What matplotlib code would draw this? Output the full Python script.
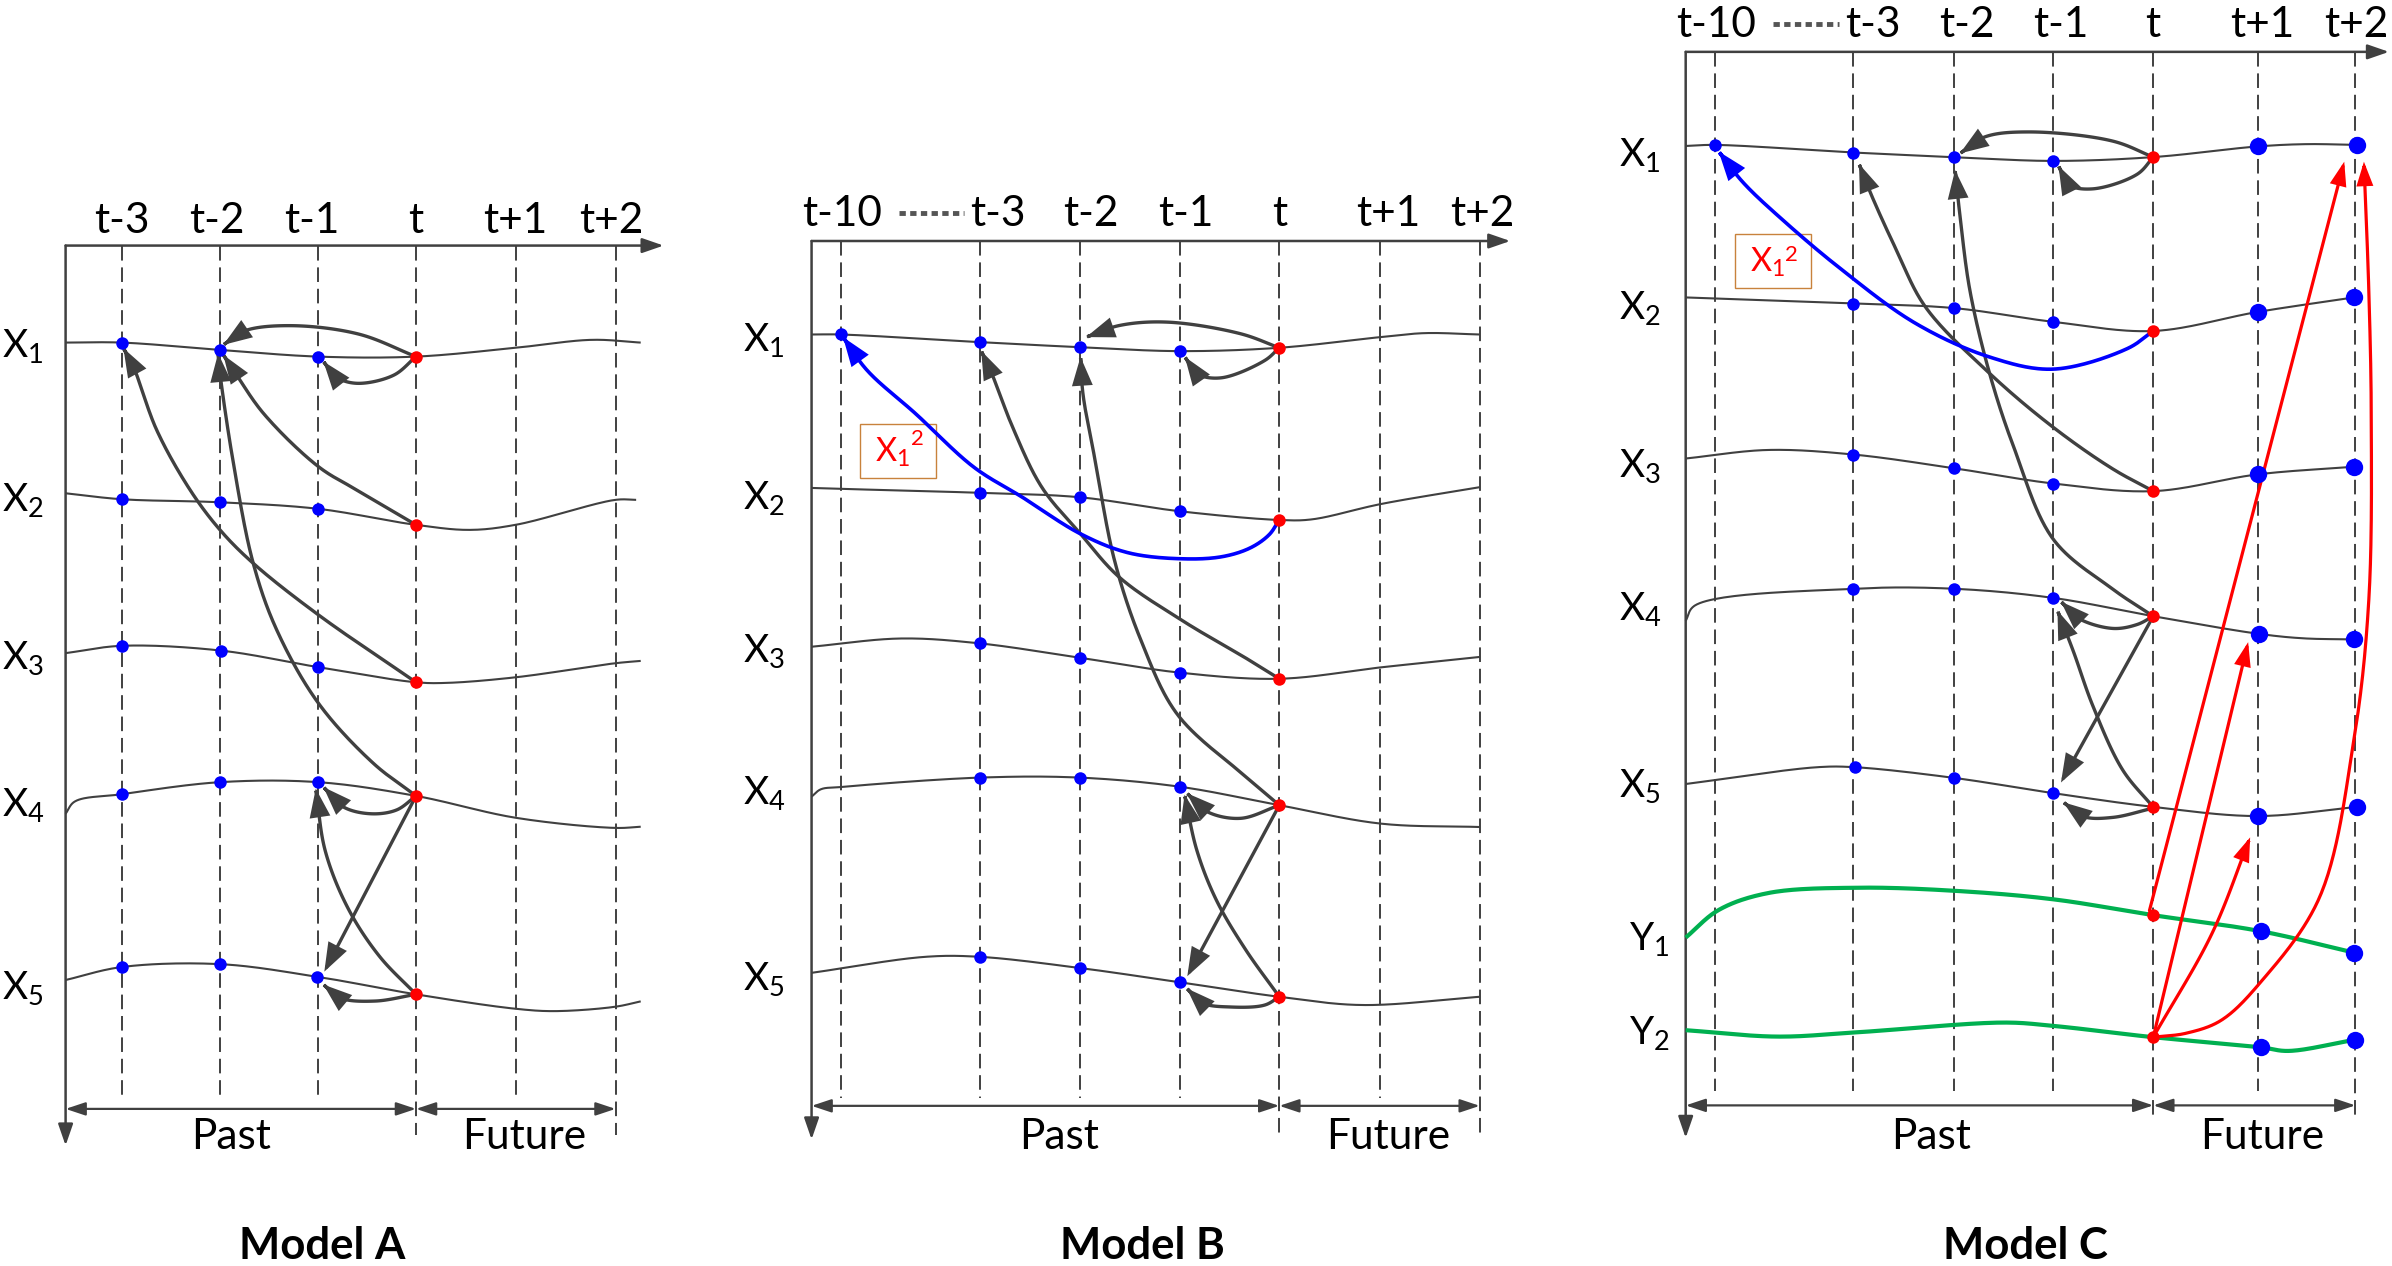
import numpy as np
import matplotlib
matplotlib.use("Agg")
import matplotlib.pyplot as plt
from matplotlib.patches import FancyArrowPatch, Rectangle
from matplotlib.path import Path

plt.rcParams['font.family'] = ['Lato', 'DejaVu Sans']
plt.rcParams['mathtext.fontset'] = 'custom'
plt.rcParams['mathtext.rm'] = 'Lato'
plt.rcParams['mathtext.it'] = 'Lato:italic'
plt.rcParams['mathtext.bf'] = 'Lato:bold'

# ---------------- data (diagram coordinates, y grows downward) ----------------
# Model A
A_COL_X = [80, 144.2, 208.7, 272.7, 338.4, 403.5]
A_COL_LABELS = ["t-3", "t-2", "t-1", "t", "t+1", "t+2"]
A_COL_LABEL_X = [80, 142, 204.5, 272.5, 338, 401]
A_COL_BOTTOM = [722, 722, 722, 744, 722, 744]
A_ROW_NAMES = ["X_1", "X_2", "X_3", "X_4", "X_5"]
A_ROW_BASE = [234.2, 335, 438.7, 534.9, 655.2]
A_ROWS = [
    [(43, 224.6, ''), (79.8, 224.6, 'b'), (144.2, 229.4, 'b'), (208.7, 233.8, 'b'), (272.7, 233.8, 'r'), (338, 228, ''), (388, 222.8, ''), (420, 224.6, '')],
    [(43, 323.4, ''), (79.8, 327.3, 'b'), (144.2, 329.3, 'b'), (208.7, 333.6, 'b'), (272.7, 344.1, 'r'), (308, 347.4, ''), (338.4, 344, ''), (403.5, 327.7, ''), (417, 327.7, '')],
    [(43, 428.2, ''), (79.8, 423.4, 'b'), (144.6, 426.5, 'b'), (208.7, 437.4, 'b'), (272.7, 447.3, 'r'), (293, 447.7, ''), (338.4, 444, ''), (403.5, 434.8, ''), (420, 433.3, '')],
    [(43, 533.5, ''), (49, 525.5, ''), (79.8, 520.7, 'b'), (144.2, 512.8, 'b'), (208.7, 512.8, 'b'), (272.7, 521.8, 'r'), (338.4, 536.2, ''), (403.5, 542.8, ''), (420, 542, '')],
    [(43, 642.5, ''), (79.8, 634, 'b'), (144.2, 632.1, 'b'), (208, 640.4, 'b'), (272.7, 651.9, 'r'), (338.4, 661.4, ''), (364, 662.9, ''), (403.5, 660, ''), (420, 656.5, '')],
]
A_ARROWS = [
    [(272.7, 233.8), (235, 219), (190, 213.5), (160, 217), (146.4, 226.1)],
    [(272.7, 233.8), (258, 246), (234, 251.3), (220, 247), (212, 237)],
    [(272.7, 344.1), (233.8, 321.2), (208.7, 305.9), (172.6, 270.9), (153, 242.5), (146.4, 232.7)],
    [(272.7, 447.3), (208.7, 403.1), (166, 369.3), (144.2, 347.4), (124.6, 321.2), (102.7, 281.9), (87.4, 240.3), (80.9, 228.3)],
    [(272.7, 521.8), (244.7, 500.4), (208.7, 461), (181.4, 413), (166, 369.3), (153, 303.7), (144.2, 244.7), (143, 231.6)],
    [(272.7, 521.8), (260, 531), (243, 533.5), (225, 529), (212, 516)],
    [(272.7, 651.9), (248.7, 626.9), (228, 595.2), (213.2, 557.8), (207, 517)],
    [(272.7, 521.8), (212.6, 637)],
    [(272.7, 651.9), (245.8, 656.3), (222.6, 654.2), (212, 645.5)],
]

# Model B
B_COL_X = [551, 642.2, 707.7, 773.5, 838.6, 904.5, 970]
B_COL_LABELS = ["t-10", "t-3", "t-2", "t-1", "t", "t+1", "t+2"]
B_COL_LABEL_X = [551.8, 654.3, 715.4, 777.5, 838.7, 910, 972]
B_COL_BOTTOM = [720, 720, 720, 720, 743, 720, 743]
B_ROW_NAMES = ["X_1", "X_2", "X_3", "X_4", "X_5"]
B_ROW_BASE = [230, 333.6, 434.2, 526.9, 649.1]
B_ROWS = [
    [(532, 219.3, ''), (551, 219.3, 'b'), (642.2, 224.3, 'b'), (707.7, 227.6, 'b'), (773.5, 230.2, 'b'), (838.6, 228, 'r'), (905, 221, ''), (934, 218.4, ''), (970, 219.3, '')],
    [(532, 319.9, ''), (551, 320.5, ''), (642.2, 323.1, 'b'), (707.7, 326, 'b'), (773.5, 335.2, 'b'), (838.6, 340.9, 'r'), (860, 340.5, ''), (905.4, 330.4, ''), (970, 319.4, '')],
    [(532, 424, ''), (590.8, 418.6, ''), (642.2, 421.8, 'b'), (707.7, 431.2, 'b'), (773.5, 441, 'b'), (838.6, 445, 'r'), (905.4, 437.5, ''), (970, 430.7, '')],
    [(532, 522.3, ''), (538, 517.5, ''), (551, 516, ''), (642.2, 509.8, 'b'), (707.7, 509.8, 'b'), (773.5, 515.8, 'b'), (838.6, 527.9, 'r'), (905.4, 540, ''), (970, 542.2, '')],
    [(532, 637.8, ''), (606.6, 627.3, ''), (642.2, 627.3, 'b'), (707.7, 634.6, 'b'), (773.5, 644, 'b'), (838.6, 653.5, 'r'), (892.7, 658.9, ''), (970, 653.5, '')],
]
B_ARROWS = [
    [(838.6, 228), (813.2, 218.8), (765.5, 211.2), (733.8, 213.4), (712, 221)],
    [(838.6, 228), (829.1, 236.3), (800.5, 247.7), (784.6, 245), (776.7, 234)],
    [(838.6, 445), (819.6, 433.2), (775.1, 406.9), (733.8, 378.5), (708.3, 350), (682.9, 319.4), (663.8, 280.1), (651.1, 247.3), (643.2, 230)],
    [(838.6, 527.9), (816.4, 509), (771.9, 468.5), (748, 420), (730.6, 367.5), (717.9, 301.9), (709.9, 258.2), (708.3, 234)],
    [(838.6, 527.9), (813.2, 536.5), (791, 532), (778, 520)],
    [(838.6, 653.5), (816.4, 622.4), (797.3, 590), (784.6, 557.6), (776.5, 521)],
    [(838.6, 527.9), (778.3, 640)],
    [(838.6, 653.5), (829.1, 658.9), (806.9, 660.2), (787.8, 657.5), (778, 648)],
]
B_BLUE_ARROW = [(838.6, 340.9), (832, 350.5), (820, 359), (802, 364.8), (776.7, 366.4), (740, 362.5), (708.3, 350), (670.2, 326), (638.4, 306.3), (600.3, 271.3), (568.5, 242.9), (552.6, 221)]

# Model C
C_COL_X = [1124, 1215, 1281, 1346, 1411.5, 1480, 1544]
C_COL_LABELS = ["t-10", "t-3", "t-2", "t-1", "t", "t+1", "t+2"]
C_COL_LABEL_X = [1125, 1228, 1289, 1351, 1411, 1483, 1544.7]
C_COL_BOTTOM = [715, 715, 715, 715, 734, 715, 734]
C_ROW_NAMES = ["X_1", "X_2", "X_3", "X_4", "X_5", "Y_1", "Y_2"]
C_ROW_BASE = [108.8, 209.4, 312.8, 406.6, 522.8, 623, 684.3]
C_ROW_LABEL_X = [1061, 1061, 1061, 1061, 1061, 1068, 1068]
C_ROWS = [
    [(1105, 95.7, ''), (1124, 95, 'b'), (1215, 100, 'b'), (1281, 103, 'b'), (1346, 105.5, 'b'), (1411.5, 103, 'r'), (1480, 96, 'B'), (1512, 94.5, ''), (1545, 95, 'B')],
    [(1105, 195, ''), (1215, 199, 'b'), (1281, 202, 'b'), (1346, 211, 'b'), (1411.5, 217, 'r'), (1480, 204.5, 'B'), (1543, 195, 'B')],
    [(1105, 300.6, ''), (1159, 295, ''), (1215, 298, 'b'), (1281, 307, 'b'), (1346, 317, 'b'), (1411.5, 322, 'r'), (1480, 311, 'B'), (1543, 306, 'B')],
    [(1105, 407, ''), (1111, 397, ''), (1215, 386, 'b'), (1281, 386, 'b'), (1346, 392, 'b'), (1411.5, 404, 'r'), (1481, 415.6, 'B'), (1510, 418.5, ''), (1543, 419.2, 'B')],
    [(1105, 514, ''), (1191, 503, ''), (1216, 503, 'b'), (1281, 510, 'b'), (1346, 520, 'b'), (1411.5, 529, 'r'), (1480, 535, 'B'), (1545, 529, 'B')],
]
C_GREEN_ROWS = [
    [(1105, 614.7, ''), (1126.6, 596.6, ''), (1159, 585.5, ''), (1217, 582, ''), (1281, 584, ''), (1346, 589.6, ''), (1411.5, 600, 'r'), (1482, 610.5, 'B'), (1543, 624.5, 'B')],
    [(1105, 675.4, ''), (1165, 679.6, ''), (1217, 676.8, ''), (1314, 670.4, ''), (1346, 672.6, ''), (1411.5, 680, 'r'), (1482, 686.6, 'B'), (1500, 689, ''), (1544, 681.6, 'B')],
]
C_ARROWS = [
    [(1411.5, 103), (1384.9, 92.5), (1330, 86.5), (1301, 89.8), (1284.8, 100.6)],
    [(1411.5, 103), (1401, 114.2), (1372, 123.8), (1355.8, 121), (1349.4, 108.8)],
    [(1411.5, 322), (1384.9, 307.4), (1346, 280.2), (1304.2, 244.8), (1262.2, 201.3), (1242.8, 163.2), (1226.7, 127.8), (1218.6, 107.4)],
    [(1411.5, 404), (1384.9, 386.2), (1346, 353.6), (1320.3, 293.8), (1304.2, 244.8), (1291.3, 190.4), (1284.8, 141.4), (1281.6, 111.5)],
    [(1411.5, 404), (1401, 409.4), (1384.9, 412), (1362.3, 405.3), (1351, 394.4)],
    [(1411.5, 529.2), (1391.4, 504.7), (1372, 463), (1359, 426.7), (1348.7, 400.3)],
    [(1411.5, 404), (1351, 513)],
    [(1411.5, 529.8), (1384.9, 535.9), (1365.5, 535.3), (1352.6, 526)],
]
C_BLUE_ARROW = [(1411.5, 217), (1394.6, 228.5), (1346, 242), (1304, 234), (1255.7, 212), (1207.3, 176.8), (1168.6, 144.2), (1142.7, 119.7), (1126.6, 99.3)]
C_RED_ARROWS = [
    [(1409, 597), (1536.7, 106)],
    [(1411.5, 680), (1473.7, 421)],
    [(1411.5, 680), (1450, 612), (1475, 549)],
    [(1411.5, 680), (1433, 677.4), (1455.9, 669), (1481.8, 644), (1520.5, 588.3), (1543, 485.2), (1552.8, 393.3), (1554.4, 272), (1552.8, 190.4), (1549.6, 106)],
]

# frames: axis origin x, top axis y, right arrow tip, bottom arrow tip, past/future arrow y, t x, last x
FRAMES = {
    'A': dict(x0=43, ytop=161, xtip=435, ytip=751, ypf=727, xt=272.7, xend=403.5,
              past_x=151.7, fut_x=343.4, title_x=211, title="Model A"),
    'B': dict(x0=532, ytop=158, xtip=990, ytip=747, ypf=725, xt=838.6, xend=970,
              past_x=694, fut_x=910, title_x=749, title="Model B"),
    'C': dict(x0=1105, ytop=34, xtip=1566, ytip=746, ypf=724.7, xt=1411.5, xend=1544,
              past_x=1266, fut_x=1482.6, title_x=1328, title="Model C"),
}
LABEL_BASE = {'A': 153, 'B': 148.4, 'C': 24.5}
DOTS = {'B': (589.2, 632, 139.5), 'C': (1162, 1205.7, 15.5)}
# box x0, y0, x1, y1, X left, X baseline, superscript left, superscript baseline
BOXES = {'B': (563.7, 277.9, 613.6, 313.3, 573.5, 302.5, 597, 291.5),
         'C': (1137, 153.7, 1187, 189, 1147, 178.5, 1170, 171)}

GRAY = '#404040'
BLUE = '#0000FF'
RED = '#FF0000'
GREEN = '#00B050'
FS = 28
FS_HEAD = 30.5
FS_TITLE = 31.5

# ---------------- helpers ----------------
def crspline(pts, n=30):
    P = np.asarray(pts, float)
    if len(P) == 2:
        t = np.linspace(0, 1, n)[:, None]
        return P[0] + (P[1] - P[0]) * t
    P = np.vstack([2 * P[0] - P[1], P, 2 * P[-1] - P[-2]])
    segs = []
    for i in range(len(P) - 3):
        p0, p1, p2, p3 = P[i:i + 4]
        def tj(ti, a, b):
            return ti + max(np.hypot(*(b - a)), 1e-6) ** 0.5
        t0 = 0.0
        t1 = tj(t0, p0, p1)
        t2 = tj(t1, p1, p2)
        t3 = tj(t2, p2, p3)
        t = np.linspace(t1, t2, n, endpoint=False)[:, None]
        A1 = (t1 - t) / (t1 - t0) * p0 + (t - t0) / (t1 - t0) * p1
        A2 = (t2 - t) / (t2 - t1) * p1 + (t - t1) / (t2 - t1) * p2
        A3 = (t3 - t) / (t3 - t2) * p2 + (t - t2) / (t3 - t2) * p3
        B1 = (t2 - t) / (t2 - t0) * A1 + (t - t0) / (t2 - t0) * A2
        B2 = (t3 - t) / (t3 - t1) * A2 + (t - t1) / (t3 - t1) * A3
        C = (t2 - t) / (t2 - t1) * B1 + (t - t1) / (t2 - t1) * B2
        segs.append(C)
    segs.append(P[-2][None, :])
    return np.vstack(segs)


fig = plt.figure(figsize=(23.92, 12.66), dpi=100)
ax = fig.add_axes([0, 0, 1, 1])
ax.set_xlim(0, 1568)
ax.set_ylim(830, 0)
ax.axis('off')


def arrow(pts, color=GRAY, lw=2.4, hl=16, hw=5.8, z=3):
    v = crspline(pts)
    p = FancyArrowPatch(path=Path(v), arrowstyle=f'-|>,head_length={hl},head_width={hw}',
                        mutation_scale=1, lw=lw, color=color, zorder=z, joinstyle='miter')
    ax.add_patch(p)


def straight(p0, p1, style, lw=1.8, hl=13, hw=4.5):
    p = FancyArrowPatch(p0, p1, arrowstyle=f'{style},head_length={hl},head_width={hw}',
                        mutation_scale=1, lw=lw, color=GRAY, shrinkA=0, shrinkB=0, zorder=2)
    ax.add_patch(p)


def row(knots, color=GRAY, lw=1.5, small=9, big=12.5):
    xy = np.array([(k[0], k[1]) for k in knots])
    c = crspline(xy)
    ax.plot(c[:, 0], c[:, 1], color=color, lw=lw, zorder=2, solid_capstyle='butt')
    for x, y, kind in knots:
        if kind == 'b':
            ax.plot(x, y, 'o', color=BLUE, ms=small, mec='none', zorder=5)
        elif kind == 'B':
            ax.plot(x, y, 'o', color=BLUE, ms=big, mec='none', zorder=5)
        elif kind == 'r':
            ax.plot(x, y, 'o', color=RED, ms=small, mec='none', zorder=5)


def frame(key, col_x, col_bottom, col_labels, col_label_x):
    f = FRAMES[key]
    straight((f['x0'], f['ytop']), (f['xtip'], f['ytop']), '-|>')
    straight((f['x0'], f['ytop']), (f['x0'], f['ytip']), '-|>')
    for x, yb in zip(col_x, col_bottom):
        ax.plot([x, x], [f['ytop'], yb], color=GRAY, lw=1.4, ls=(0, (7.5, 3.5)), zorder=1)
    straight((f['x0'], f['ypf']), (f['xt'], f['ypf']), '<|-|>', lw=1.6, hl=12, hw=4)
    straight((f['xt'], f['ypf']), (f['xend'], f['ypf']), '<|-|>', lw=1.6, hl=12, hw=4)
    for lab, x in zip(col_labels, col_label_x):
        ax.text(x, LABEL_BASE[key], lab, ha='center', va='baseline', fontsize=FS_HEAD)
    ax.text(f['past_x'], 753.5, "Past", ha='center', va='baseline', fontsize=FS_HEAD)
    ax.text(f['fut_x'], 753.5, "Future", ha='center', va='baseline', fontsize=FS_HEAD)
    ax.text(f['title_x'], 825.5, f['title'], ha='center', va='baseline', fontsize=FS_TITLE,
            fontweight='bold')
    if key in DOTS:
        x1, x2, y = DOTS[key]
        ax.plot([x1, x2], [y, y], color='#555555', lw=3.5, ls=(0, (1.3, 0.9)),
                solid_capstyle='butt', zorder=2)
    if key in BOXES:
        bx0, by0, bx1, by1, tx, ty, sx, sy = BOXES[key]
        ax.add_patch(Rectangle((bx0, by0), bx1 - bx0, by1 - by0, fill=False,
                               ec='#C8823C', lw=1.0, zorder=2))
        ax.text(tx, ty, r'$\mathrm{X}_{1}$', color=RED, fontsize=23.5,
                ha='left', va='baseline', zorder=6)
        ax.text(sx, sy, '2', color=RED, fontsize=16, ha='left', va='baseline', zorder=6)


def row_labels(names, bases, xs):
    for n, b, x in zip(names, bases, xs):
        letter, idx = n.split('_')
        ax.text(x, b, r'$\mathrm{%s}_{%s}$' % (letter, idx), ha='left', va='baseline', fontsize=FS)


# ---------------- Model A ----------------
frame('A', A_COL_X, A_COL_BOTTOM, A_COL_LABELS, A_COL_LABEL_X)
for r in A_ROWS:
    row(r)
for a in A_ARROWS:
    arrow(a)
row_labels(A_ROW_NAMES, A_ROW_BASE, [1] * 5)

# ---------------- Model B ----------------
frame('B', B_COL_X, B_COL_BOTTOM, B_COL_LABELS, B_COL_LABEL_X)
for r in B_ROWS:
    row(r)
for a in B_ARROWS:
    arrow(a)
arrow(B_BLUE_ARROW, color=BLUE, lw=2.6)
row_labels(B_ROW_NAMES, B_ROW_BASE, [487.3] * 5)

# ---------------- Model C ----------------
frame('C', C_COL_X, C_COL_BOTTOM, C_COL_LABELS, C_COL_LABEL_X)
for r in C_ROWS:
    row(r)
for r in C_GREEN_ROWS:
    row(r, color=GREEN, lw=3.0)
for a in C_ARROWS:
    arrow(a)
arrow(C_BLUE_ARROW, color=BLUE, lw=2.6)
for a in C_RED_ARROWS:
    arrow(a, color=RED, lw=2.3, hl=13, hw=4.5, z=4)
row_labels(C_ROW_NAMES, C_ROW_BASE, C_ROW_LABEL_X)

fig.savefig('out.png', dpi=100)
